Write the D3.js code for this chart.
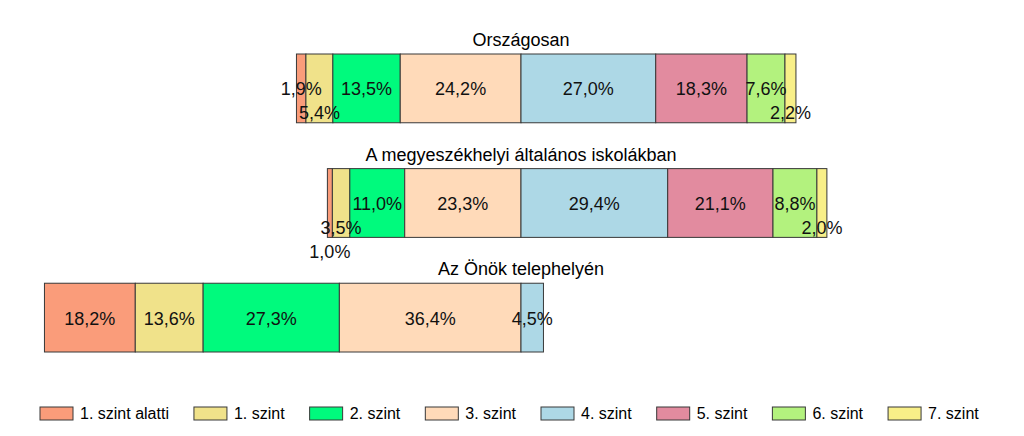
<!DOCTYPE html>
<html><head><meta charset="utf-8">
<script src="https://cdn.jsdelivr.net/npm/d3@7/dist/d3.min.js"></script>
<style>
html,body{margin:0;padding:0;background:#fff;}
text{font-family:"Liberation Sans",Arial,sans-serif;}
</style></head>
<body><svg id="chart" width="1024" height="436"></svg>
<script>
const levels = ["1. szint alatti","1. szint","2. szint","3. szint","4. szint","5. szint","6. szint","7. szint"];
const levelColors = ["#FA9C7A","#F0E28A","#00FA7D","#FFDAB9","#ADD8E6","#E28B9F","#B3F27E","#F8EF88"];
const groups = ["Országosan","A megyeszékhelyi általános iskolákban","Az Önök telephelyén"];
const orszagosan = [1.9,5.4,13.5,24.2,27.0,18.3,7.6,2.2];
const megyeszekhely = [1.0,3.5,11.0,23.3,29.4,21.1,8.8,2.0];
const telephely = [18.2,13.6,27.3,36.4,4.5,0,0,0];
const series = [orszagosan, megyeszekhely, telephely];
const nLeft = 4; // levels below the centre line

const svg = d3.select("#chart");
const x = d3.scaleLinear().domain([-100,100]).range([22,1020]);
const y = d3.scaleBand().domain(groups).range([54,352]).paddingInner(0.4).paddingOuter(0);
const color = d3.scaleOrdinal().domain(levels).range(levelColors);
const fmt = v => d3.format(".1f")(v).replace(".", ",") + "%";

groups.forEach((g, gi) => {
  const vals = series[gi];
  const segs = vals.map((v, i) => {
    let a, b;
    if (i < nLeft) {
      a = -d3.sum(vals.slice(i, nLeft));
      b = -d3.sum(vals.slice(i + 1, nLeft));
    } else {
      a = d3.sum(vals.slice(nLeft, i));
      b = a + v;
    }
    return {i, v, a, b, level: levels[i]};
  }).filter(d => d.v > 0);

  const grp = svg.append("g");
  const top = y(g), bw = y.bandwidth();

  grp.append("text")
    .attr("x", x(0)).attr("y", top - 8)
    .attr("text-anchor", "middle")
    .attr("font-size", 18).attr("fill", "#000")
    .text(g);

  grp.selectAll("rect").data(segs).join("rect")
    .attr("x", d => x(d.a)).attr("width", d => x(d.b) - x(d.a))
    .attr("y", top).attr("height", bw)
    .attr("fill", d => color(d.level))
    .attr("stroke", "#383838").attr("stroke-width", 1);

  const mid = top + bw / 2;
  const labels = grp.selectAll("text.lbl").data(segs).join("text")
    .attr("class", "lbl")
    .attr("x", d => (x(d.a) + x(d.b)) / 2)
    .attr("y", mid + 7)
    .attr("text-anchor", "middle")
    .attr("font-size", 18).attr("fill", "#111")
    .text(d => fmt(d.v));

  // place labels from the centre outwards, stepping down when they collide
  const nodes = labels.nodes();
  const order = segs.map((d, k) => k).sort((p, q) => {
    const dp = segs[p].i < nLeft ? nLeft - 1 - segs[p].i : segs[p].i - nLeft;
    const dq = segs[q].i < nLeft ? nLeft - 1 - segs[q].i : segs[q].i - nLeft;
    return dp - dq || p - q;
  });
  const placed = [];
  const pad = 4;
  order.forEach(k => {
    const d = segs[k];
    const w = nodes[k].getComputedTextLength();
    const cx = (x(d.a) + x(d.b)) / 2;
    const l = cx - w / 2, r = cx + w / 2;
    let lev = 0;
    while (placed.some(p => p.lev === lev && l < p.r + pad && r > p.l - pad)) lev++;
    placed.push({l, r, lev});
    d3.select(nodes[k]).attr("y", mid + 7 + lev * 24);
  });
});

// legend
const leg = svg.append("g");
let lx = 40;
levels.forEach(lv => {
  leg.append("rect").attr("x", lx).attr("y", 407).attr("width", 33).attr("height", 13)
    .attr("fill", color(lv)).attr("stroke", "#383838").attr("stroke-width", 1);
  const t = leg.append("text").attr("x", lx + 40).attr("y", 419)
    .attr("font-size", 16).attr("fill", "#000").text(lv);
  lx += 40 + t.node().getComputedTextLength() + 25;
});
</script></body></html>
